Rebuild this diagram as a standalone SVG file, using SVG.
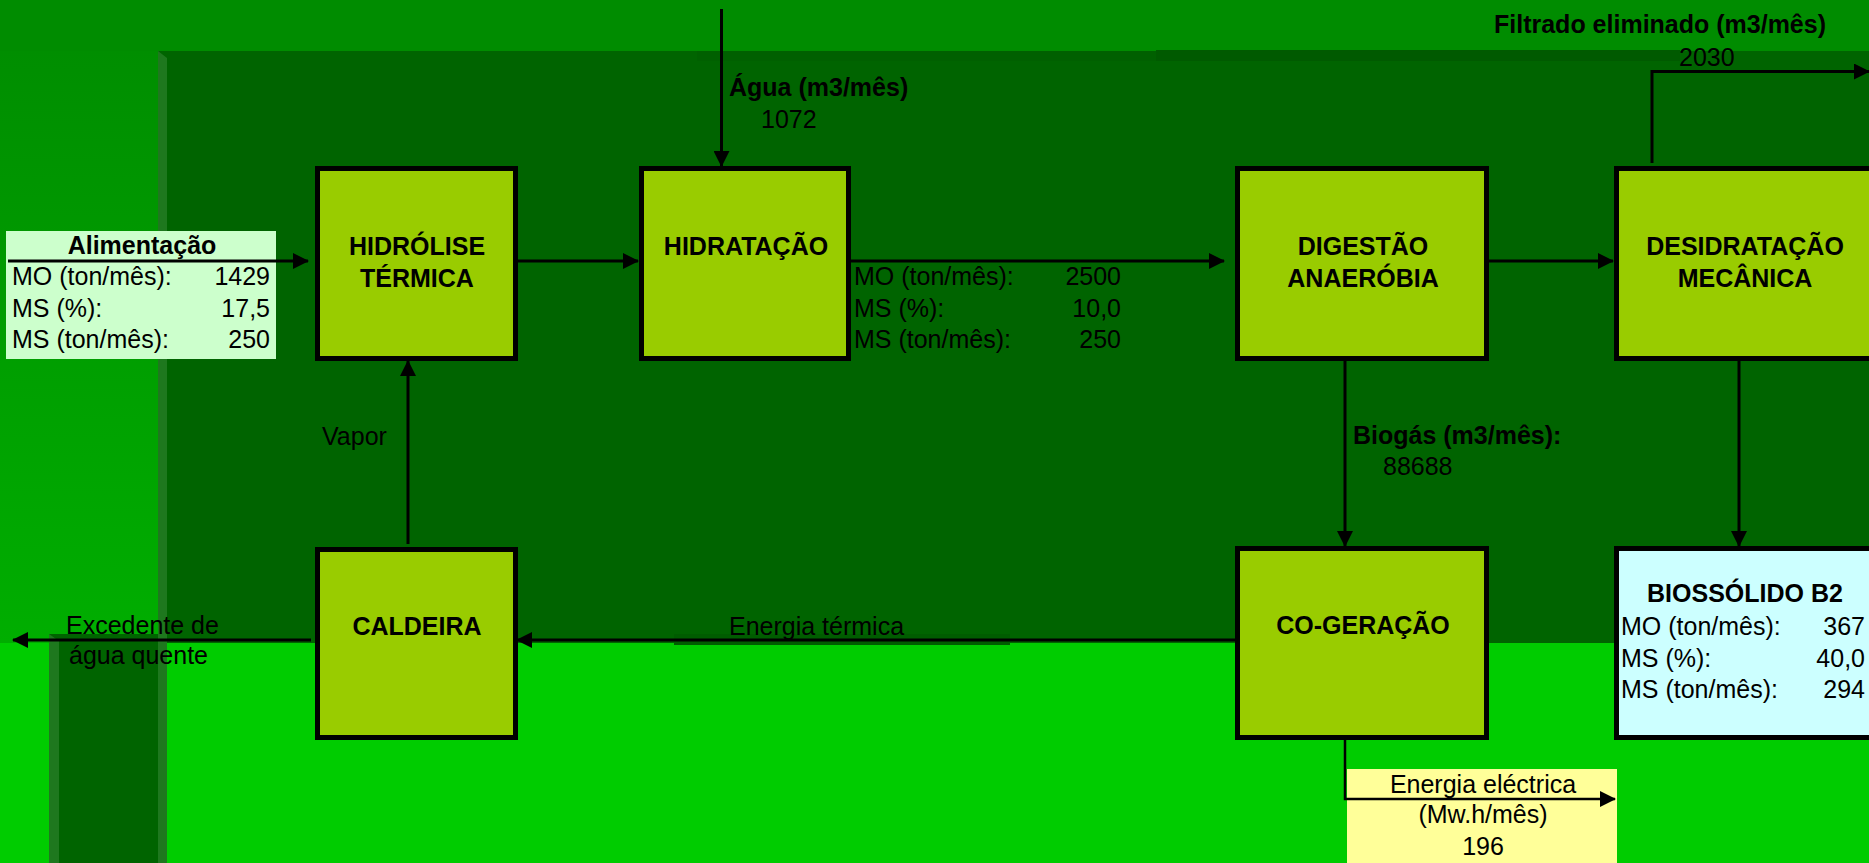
<svg xmlns="http://www.w3.org/2000/svg" width="1869" height="863" viewBox="0 0 1869 863">
<defs>
<linearGradient id="leftGrad" x1="0" y1="0" x2="0" y2="1">
<stop offset="0" stop-color="#008E00"/>
<stop offset="1" stop-color="#00AE00"/>
</linearGradient>
<marker id="arr" viewBox="0 0 16 16" refX="15" refY="8" markerWidth="16" markerHeight="16" markerUnits="userSpaceOnUse" orient="auto">
<path d="M0,0 L16,8 L0,16 z" fill="#000"/>
</marker>
</defs>
<style>
text{font-family:"Liberation Sans",Arial,sans-serif;font-size:25px;fill:#000}
.b{font-weight:bold}
.m{text-anchor:middle}
.e{text-anchor:end}
.box{fill:#99CC00;stroke:#000;stroke-width:5}
.c{fill:none;stroke:#000;stroke-width:3}
.t{stroke-width:2.5}
</style>
<g id="background">
<rect x="0" y="0" width="1869" height="863" fill="#008C00"/>
<rect x="0" y="51" width="158" height="592" fill="url(#leftGrad)"/>
<rect x="0" y="643" width="1869" height="220" fill="#00CC00"/>
<rect x="158" y="51" width="1711" height="592" fill="#006400"/>
<rect x="697" y="51" width="459" height="10" fill="#006000"/>
<rect x="1156" y="50" width="524" height="11" fill="#005A00"/>
<polygon points="158,51 167,58 167,643 158,643" fill="#1E781E"/>
<rect x="49" y="634" width="118" height="229" fill="#006400"/>
<polygon points="49,634 59,641 59,863 49,863" fill="#1E781E"/>
<rect x="158" y="634" width="9" height="229" fill="#1E781E"/>
<rect x="674" y="634" width="336" height="11" fill="#005C00"/>
</g>
<g id="alimentacao">
<rect x="6" y="231" width="270" height="128" fill="#CCFFCC"/>
<text class="b m" x="142" y="254">Alimentação</text>
<text x="12" y="285">MO (ton/mês):</text><text class="e" x="270" y="285">1429</text>
<text x="12" y="317">MS (%):</text><text class="e" x="270" y="317">17,5</text>
<text x="12" y="348">MS (ton/mês):</text><text class="e" x="270" y="348">250</text>
</g>
<g id="hidrolise">
<rect class="box" x="317.5" y="168.5" width="198" height="190"/>
<text class="b m" x="417" y="255">HIDRÓLISE</text>
<text class="b m" x="417" y="287">TÉRMICA</text>
</g>
<g id="hidratacao">
<rect class="box" x="641.5" y="168.5" width="207" height="190"/>
<text class="b m" x="746" y="255">HIDRATAÇÃO</text>
</g>
<g id="digestao">
<rect class="box" x="1237.5" y="168.5" width="249" height="190"/>
<text class="b m" x="1363" y="255">DIGESTÃO</text>
<text class="b m" x="1363" y="287">ANAERÓBIA</text>
</g>
<g id="desidratacao">
<rect class="box" x="1616.5" y="168.5" width="257" height="190"/>
<text class="b m" x="1745" y="255">DESIDRATAÇÃO</text>
<text class="b m" x="1745" y="287">MECÂNICA</text>
</g>
<g id="caldeira">
<rect class="box" x="317.5" y="549.5" width="198" height="188"/>
<text class="b m" x="417" y="635">CALDEIRA</text>
</g>
<g id="cogeracao">
<rect class="box" x="1237.5" y="548.5" width="249" height="189"/>
<text class="b m" x="1363" y="634">CO-GERAÇÃO</text>
</g>
<g id="biossolido">
<rect class="box" x="1616.5" y="548.5" width="257" height="189" style="fill:#CCFFFF"/>
<text class="b m" x="1745" y="602">BIOSSÓLIDO B2</text>
<text x="1621" y="635">MO (ton/mês):</text><text class="e" x="1865" y="635">367</text>
<text x="1621" y="667">MS (%):</text><text class="e" x="1865" y="667">40,0</text>
<text x="1621" y="698">MS (ton/mês):</text><text class="e" x="1865" y="698">294</text>
</g>
<g id="energia-electrica">
<rect x="1347" y="769" width="270" height="94" fill="#FFFF99"/>
<text class="m" x="1483" y="793">Energia eléctrica</text>
<text class="m" x="1483" y="823">(Mw.h/mês)</text>
<text class="m" x="1483" y="855">196</text>
</g>
<g id="connectors">
<line class="c" x1="8" y1="261" x2="308" y2="261" marker-end="url(#arr)"/>
<line class="c" x1="513" y1="261" x2="638" y2="261" marker-end="url(#arr)"/>
<line class="c" x1="851" y1="261" x2="1224" y2="261" marker-end="url(#arr)"/>
<line class="c" x1="1489" y1="261" x2="1613" y2="261" marker-end="url(#arr)"/>
<line class="c" x1="721.5" y1="9" x2="721.5" y2="166" marker-end="url(#arr)"/>
<line class="c" x1="408" y1="544" x2="408" y2="361" marker-end="url(#arr)"/>
<line class="c" x1="1345" y1="361" x2="1345" y2="546" marker-end="url(#arr)"/>
<line class="c" x1="1739" y1="361" x2="1739" y2="546" marker-end="url(#arr)"/>
<polyline class="c" points="1652,163 1652,71.5 1869,71.5" marker-end="url(#arr)"/>
<line class="c" x1="1235" y1="640" x2="517" y2="640" marker-end="url(#arr)"/>
<line class="c" x1="311" y1="640" x2="13" y2="640" marker-end="url(#arr)"/>
<polyline class="c t" points="1345,739 1345,799 1615,799" marker-end="url(#arr)"/>
</g>
<g id="labels">
<text class="b" x="729" y="96">Água (m3/mês)</text>
<text x="761" y="128">1072</text>
<text x="854" y="285">MO (ton/mês):</text><text class="e" x="1121" y="285">2500</text>
<text x="854" y="317">MS (%):</text><text class="e" x="1121" y="317">10,0</text>
<text x="854" y="348">MS (ton/mês):</text><text class="e" x="1121" y="348">250</text>
<text class="b" x="1494" y="33">Filtrado eliminado (m3/mês)</text>
<text x="1679" y="66">2030</text>
<text x="322" y="445">Vapor</text>
<text class="b" x="1353" y="444">Biogás (m3/mês):</text>
<text x="1383" y="475">88688</text>
<text x="729" y="635">Energia térmica</text>
<text x="66" y="634">Excedente de</text>
<text x="69" y="664">água quente</text>
</g>
</svg>
